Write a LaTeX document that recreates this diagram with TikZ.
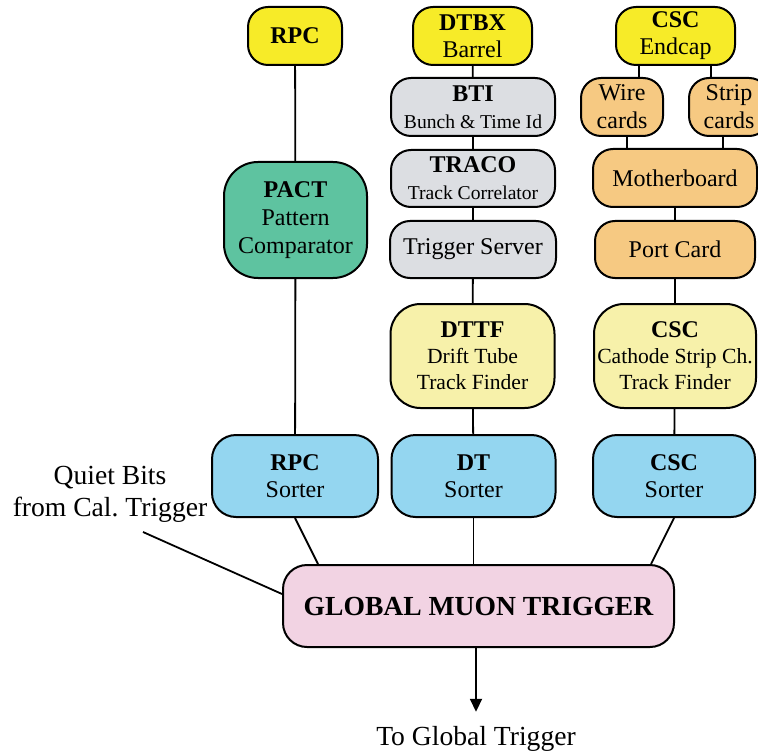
\documentclass[tikz,border=0pt]{standalone}
\usepackage{fontspec}
\setmainfont{Liberation Serif}
\usetikzlibrary{arrows.meta}

\definecolor{yellowtop}{RGB}{247,235,40}
\definecolor{greybox}{RGB}{220,222,226}
\definecolor{greenbox}{RGB}{94,195,160}
\definecolor{orangebox}{RGB}{246,201,130}
\definecolor{paleyellow}{RGB}{247,241,170}
\definecolor{bluebox}{RGB}{148,214,240}
\definecolor{pinkbox}{RGB}{242,211,227}

\begin{document}
\begin{tikzpicture}[x=0.5pt,y=-0.5pt,
    box/.style={draw,line width=1pt,rounded corners=10pt,align=center,inner sep=0pt,
                font=\fontsize{12}{13.5}\selectfont},
    srcbox/.style={box,fill=yellowtop,minimum height=29pt},
    dtbox/.style={box,fill=greybox,minimum width=82pt,minimum height=28.5pt},
    cscbox/.style={box,fill=orangebox,minimum height=29pt},
    tfbox/.style={box,fill=paleyellow,rounded corners=15pt,minimum width=82pt,minimum height=52pt,
                  font=\fontsize{10.8}{13}\selectfont},
    sortbox/.style={box,fill=bluebox,rounded corners=12pt,minimum width=82pt,minimum height=41pt},
    wire/.style={line width=0.9pt}]
                    % \useasboundingbox keeps the page at 758 x 753
                    \useasboundingbox (0,0) rectangle (758,753);

                    % sources
                    \node (rpc)   at (295,36)   [srcbox,minimum width=47pt] {\textbf{RPC}};
                    \node (dtbx)  at (472.5,36) [srcbox,minimum width=59.5pt] {\textbf{DTBX}\\Barrel};
                    \node (cscec) at (675.5,36) [srcbox,minimum width=59.5pt] {\textbf{CSC}\\Endcap};

                    % RPC column
                    \node (pact) at (295.5,220) [box,fill=greenbox,rounded corners=17pt,minimum width=71.5pt,minimum height=58pt,
                        font=\fontsize{12}{14}\selectfont] {\textbf{PACT}\\Pattern\\Comparator};
                    \node (rpcsort) at (295,476) [sortbox,minimum width=83pt] {\textbf{RPC}\\Sorter};

                    % DT column
                    \node (bti)   at (473,107)   [dtbox,minimum height=29pt] {\textbf{BTI}\\{\fontsize{9.8}{12}\selectfont Bunch \& Time Id}};
                    \node (traco) at (473,178.5) [dtbox] {\textbf{TRACO}\\{\fontsize{9.8}{12}\selectfont Track Correlator}};
                    \node (tsrv)  at (473,249.5) [dtbox,minimum width=83pt] {Trigger Server};
                    \node (dttf)  at (472.5,356) [tfbox] {\textbf{\fontsize{12}{13}\selectfont DTTF}\\Drift Tube\\Track Finder};
                    \node (dtsort) at (473.5,476) [sortbox] {\textbf{DT}\\Sorter};

                    % CSC column
                    \node (wire)  at (622,107)   [cscbox,minimum width=41pt,font=\fontsize{12}{14}\selectfont] {Wire\\cards};
                    \node (strip) at (729,107)   [cscbox,minimum width=40pt,font=\fontsize{12}{14}\selectfont] {Strip\\cards};
                    \node (mboard) at (675,178)  [cscbox,minimum width=82pt] {Motherboard};
                    \node (port)  at (675,249.5) [cscbox,minimum width=80pt,minimum height=28.5pt] {Port Card};
                    \node (csctf) at (675,356)   [tfbox,minimum width=81pt] {\textbf{\fontsize{12}{13}\selectfont CSC}\\Cathode Strip Ch.\\Track Finder};
                    \node (cscsort) at (674,476) [sortbox,minimum width=81pt] {\textbf{CSC}\\Sorter};

                    % GMT
                    \node (gmt) at (478.5,606) [box,fill=pinkbox,rounded corners=12pt,minimum width=195.5pt,minimum height=41pt,
                        font=\fontsize{13.8}{16}\selectfont\bfseries] {GLOBAL MUON TRIGGER};
                    \node (qbits) at (110,494) [align=center,font=\fontsize{13.8}{16}\selectfont] {Quiet Bits\\from Cal.\ Trigger};
                    \node (togt) at (476,745) [anchor=base,font=\fontsize{13.8}{16}\selectfont] {To Global Trigger};
                    \coordinate (qend) at (143,532);

                    % links
                    \draw[wire] (rpc) -- (pact);
                    \draw[wire] (pact) -- (rpcsort);
                    \draw[wire] (dtbx) -- (bti) -- (traco) -- (tsrv) -- (dttf) -- (dtsort);
                    \coordinate (wtop) at ([xshift=8.5pt]wire.north);
                    \coordinate (stop) at ([xshift=-9pt]strip.north);
                    \draw[wire] (wtop) -- (wtop |- cscec.south);
                    \draw[wire] (stop) -- (stop |- cscec.south);
                    \coordinate (wbot) at ([xshift=2.5pt]wire.south);
                    \coordinate (sbot) at ([xshift=-3pt]strip.south);
                    \draw[wire] (wbot) -- (wbot |- mboard.north);
                    \draw[wire] (sbot) -- (sbot |- mboard.north);
                    \draw[wire] (mboard) -- (port) -- (csctf) -- (cscsort);

                    \draw[wire] (rpcsort.south) -- ([xshift=-80.25pt]gmt.north);
                    \draw[wire] (dtsort.south) -- (dtsort.south |- gmt.north);
                    \draw[wire] (cscsort.south) -- ([xshift=86.25pt]gmt.north);
                    \draw[wire] (qend) -- ([yshift=6pt]gmt.west);
                    \draw[wire,-{Triangle[length=6.5pt,width=6pt]}] (togt.north |- gmt.south) -- ([yshift=3.5pt]togt.north);
\end{tikzpicture}
\end{document}
